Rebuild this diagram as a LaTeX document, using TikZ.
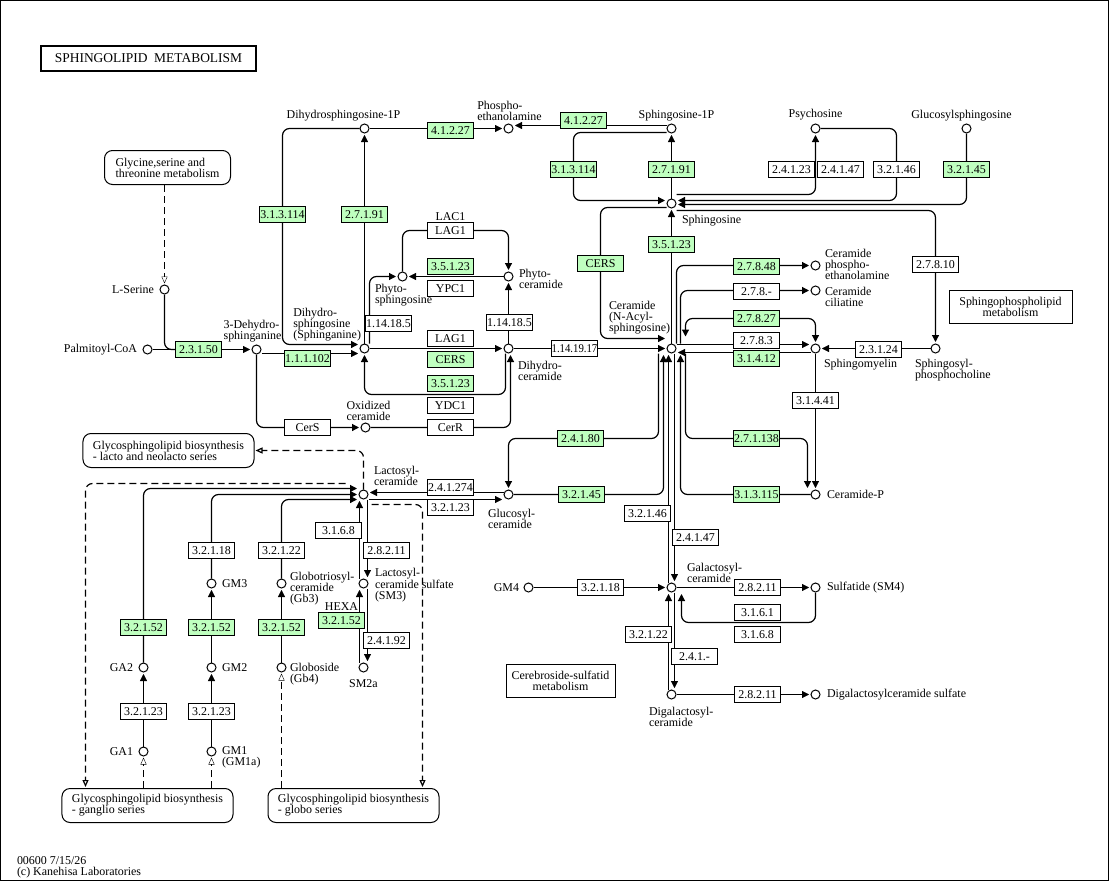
\documentclass[tikz,border=0pt]{standalone}
\usepackage{fontspec}
\setmainfont{Liberation Serif}
\usetikzlibrary{arrows.meta, positioning, calc}
\definecolor{kegggreen}{RGB}{191, 255, 191}
\pgfdeclarelayer{bg}
\pgfsetlayers{bg,main}

\begin{document}
\begin{tikzpicture}[x=1bp, y=-1bp, line width=1bp,
    cpd/.style={circle, draw, fill=white, inner sep=0pt, minimum size=9bp},
    lbl/.style={font=\fontsize{12}{11}\selectfont, inner sep=0pt, align=left},
    enz/.style={draw, fill=white, minimum width=46bp, minimum height=16bp, inner sep=0pt, font=\fontsize{12}{12}\selectfont},
    enzg/.style={enz, fill=kegggreen},
    mapbox/.style={draw, rounded corners=8bp, minimum width=171bp, minimum height=34bp, align=left, font=\fontsize{12}{11}\selectfont},
    mapsq/.style={draw, minimum height=33bp, align=center, font=\fontsize{12}{11}\selectfont},
    arr/.style={-{Triangle[length=7bp, width=7bp]}, shorten >=1.5bp},
    arrboth/.style={{Triangle[length=7bp, width=7bp]}-{Triangle[length=7bp, width=7bp]}, shorten >=1.5bp},
    maplink/.style={dash pattern=on 7bp off 4bp, -{Triangle[open, length=7bp, width=6bp]}, shorten >=1bp},
    elbow/.style={rounded corners=7bp, line width=1.2bp}]
    \useasboundingbox (-0.5,-0.5) rectangle (1108.5,880.5);
    \draw (0,0) rectangle (1108,880);
    \node[draw, line width=2bp, minimum width=214bp, minimum height=25bp, font=\fontsize{13.5}{13.5}\selectfont] (title) at (148,58) {SPHINGOLIPID\ \ METABOLISM};
    \node[lbl, anchor=west] (footer) at (16,867) {00600 7/15/26\\(c) Kanehisa Laboratories};

    % compounds
    \node[cpd] (pcoa) at (147,349) {};
    \node[cpd] (ser) at (164,289) {};
    \node[cpd] (dh3) at (256,349) {};
    \node[cpd] (sa) at (364,348) {};
    \node[cpd] (dh1p) at (364,128) {};
    \node[cpd] (pe) at (508,128) {};
    \node[cpd] (s1p) at (671,128) {};
    \node[cpd] (psy) at (815,128) {};
    \node[cpd] (glcsph) at (966,128) {};
    \node[cpd] (sph) at (671,203) {};
    \node[cpd] (phs) at (402,276) {};
    \node[cpd] (phc) at (508,276) {};
    \node[cpd] (dhc) at (508,348) {};
    \node[cpd] (oxc) at (365,427) {};
    \node[cpd] (cer) at (671,348) {};
    \node[cpd] (cpe) at (815,265) {};
    \node[cpd] (ccil) at (815,290) {};
    \node[cpd] (sm) at (815,348) {};
    \node[cpd] (spc) at (935,348) {};
    \node[cpd] (cerp) at (815,494) {};
    \node[cpd] (lac) at (363,494) {};
    \node[cpd] (glc) at (508,494) {};
    \node[cpd] (galc) at (671,587) {};
    \node[cpd] (gm4) at (528,587) {};
    \node[cpd] (sulf) at (815,587) {};
    \node[cpd] (dgc) at (671,694) {};
    \node[cpd] (dgcs) at (815,694) {};
    \node[cpd] (sm3) at (363,583) {};
    \node[cpd] (sm2a) at (363,667) {};
    \node[cpd] (gm3) at (211,583) {};
    \node[cpd] (gm2) at (211,667) {};
    \node[cpd] (gm1) at (211,751) {};
    \node[cpd] (ga2) at (143,667) {};
    \node[cpd] (ga1) at (143,751) {};
    \node[cpd] (gb3) at (281,583) {};
    \node[cpd] (gb4) at (281,667) {};

    % compound labels
    \node[lbl, left=5bp of pcoa] (lpcoa) {Palmitoyl-CoA};
    \node[lbl, left=5bp of ser] (lser) {L-Serine};
    \node[lbl, anchor=south] (ldh3) at (252,342) {3-Dehydro-\\sphinganine};
    \node[lbl, anchor=south east] (lsa) at (361,341) {Dihydro-\\sphingosine\\(Sphinganine)};
    \node[lbl, anchor=south] (ldh1p) at (343,121) {Dihydrosphingosine-1P};
    \node[lbl, anchor=south] (lpe) at (509,121) {Phospho-\\ethanolamine};
    \node[lbl, anchor=south] (ls1p) at (676,121) {Sphingosine-1P};
    \node[lbl, above=3bp of psy] (lpsy) {Psychosine};
    \node[lbl, anchor=south] (lglcsph) at (961,121) {Glucosylsphingosine};
    \node[lbl, anchor=west] (lsph) at (681,220) {Sphingosine};
    \node[lbl, anchor=north west] (lphs) at (374,283) {Phyto-\\sphingosine};
    \node[lbl, anchor=west] (lphc) at (518,278) {Phyto-\\ceramide};
    \node[lbl, anchor=west] (ldhc) at (517,370) {Dihydro-\\ceramide};
    \node[lbl, anchor=south, align=center] (loxc) at (368,421) {Oxidized\\ceramide};
    \node[lbl, anchor=west] (lcer) at (608,317) {Ceramide\\(N-Acyl-\\sphingosine)};
    \node[lbl, anchor=west] (lcpe) at (824,264) {Ceramide\\phospho-\\ethanolamine};
    \node[lbl, anchor=west] (lccil) at (824,296) {Ceramide\\ciliatine};
    \node[lbl, anchor=west] (lsm) at (823,364) {Sphingomyelin};
    \node[lbl, anchor=west] (lspc) at (914,370) {Sphingosyl-\\phosphocholine};
    \node[lbl, right=6bp of cerp] (lcerp) {Ceramide-P};
    \node[lbl, anchor=west] (llac) at (373,475) {Lactosyl-\\ceramide};
    \node[lbl, anchor=west] (lglc) at (487,518) {Glucosyl-\\ceramide};
    \node[lbl, anchor=west] (lgalc) at (686,572) {Galactosyl-\\ceramide};
    \node[lbl, left=4bp of gm4] (lgm4) {GM4};
    \node[lbl, right=6bp of sulf] (lsulf) {Sulfatide (SM4)};
    \node[lbl, anchor=west] (ldgc) at (648,716) {Digalactosyl-\\ceramide};
    \node[lbl, right=6bp of dgcs] (ldgcs) {Digalactosylceramide sulfate};
    \node[lbl, anchor=west] (lsm3) at (374,585) {Lactosyl-\\ceramide sulfate\\(SM3)};
    \node[lbl, below=7bp of sm2a] (lsm2a) {SM2a};
    \node[lbl, right=5bp of gm3] (lgm3) {GM3};
    \node[lbl, right=5bp of gm2] (lgm2) {GM2};
    \node[lbl, anchor=west] (lgm1) at (221,757) {GM1\\(GM1a)};
    \node[lbl, left=5bp of ga2] (lga2) {GA2};
    \node[lbl, left=5bp of ga1] (lga1) {GA1};
    \node[lbl, anchor=west] (lgb3) at (289,588) {Globotriosyl-\\ceramide\\(Gb3)};
    \node[lbl, anchor=west] (lgb4) at (289,674) {Globoside\\(Gb4)};

    % enzymes
    \node[enzg] (e23150) at (198,349) {2.3.1.50};
    \node[enzg] (e111102) at (307,358) {1.1.1.102};
    \node[enzg] (e313114a) at (282,214) {3.1.3.114};
    \node[enzg] (e27191a) at (364,214) {2.7.1.91};
    \node[enzg] (e41227a) at (450,130) {4.1.2.27};
    \node[enzg] (e41227b) at (583,120) {4.1.2.27};
    \node[enzg] (e313114b) at (573,169) {3.1.3.114};
    \node[enzg] (e27191b) at (671,169) {2.7.1.91};
    \node[enz] (e24123) at (791,169) {2.4.1.23};
    \node[enz] (e24147a) at (840,169) {2.4.1.47};
    \node[enz] (e32146a) at (896,169) {3.2.1.46};
    \node[enzg] (e32145a) at (966,169) {3.2.1.45};
    \node[enzg] (e35123a) at (671,244) {3.5.1.23};
    \node[enzg] (ecersa) at (600,263) {CERS};
    \node[enz] (elag1a) at (450,230) {LAG1};
    \node[enzg] (e35123b) at (450,266) {3.5.1.23};
    \node[enz] (eypc1) at (450,288) {YPC1};
    \node[enz] (e114185a) at (388,323) {1.14.18.5};
    \node[enz] (e114185b) at (509,322) {1.14.18.5};
    \node[enz] (elag1b) at (450,338) {LAG1};
    \node[enzg] (ecersb) at (450,359) {CERS};
    \node[enzg] (e35123c) at (450,383) {3.5.1.23};
    \node[enz] (eydc1) at (450,405) {YDC1};
    \node[enz] (ecers) at (307,427) {CerS};
    \node[enz] (ecerr) at (450,427) {CerR};
    \node[enz] (e1141917) at (574,348) {\scalebox{0.9}[1]{1.14.19.17}};
    \node[enzg] (e27848) at (756,266) {2.7.8.48};
    \node[enz] (e278x) at (756,291) {2.7.8.-};
    \node[enzg] (e27827) at (756,318) {2.7.8.27};
    \node[enz] (e2783) at (756,340) {2.7.8.3};
    \node[enzg] (e31412) at (756,358) {3.1.4.12};
    \node[enz] (e27810) at (935,264) {2.7.8.10};
    \node[enz] (e23124) at (878,349) {2.3.1.24};
    \node[enz] (e31441) at (815,400) {3.1.4.41};
    \node[enzg] (e24180) at (580,438) {2.4.1.80};
    \node[enzg] (e271138) at (756,438) {2.7.1.138};
    \node[enzg] (e32145b) at (581,494) {3.2.1.45};
    \node[enzg] (e313115) at (756,494) {3.1.3.115};
    \node[enz] (e241274) at (450,487) {2.4.1.274};
    \node[enz] (e32123a) at (450,507) {3.2.1.23};
    \node[enz] (e32146b) at (647,513) {3.2.1.46};
    \node[enz] (e24147b) at (695,537) {2.4.1.47};
    \node[enz] (e32118a) at (600,587) {3.2.1.18};
    \node[enz] (e28211a) at (757,587) {2.8.2.11};
    \node[enz] (e3161) at (757,612) {3.1.6.1};
    \node[enz] (e3168a) at (757,634) {3.1.6.8};
    \node[enz] (e32122a) at (648,634) {3.2.1.22};
    \node[enz] (e241x) at (694,656) {2.4.1.-};
    \node[enz] (e28211c) at (757,694) {2.8.2.11};
    \node[enz] (e3168b) at (338,530) {3.1.6.8};
    \node[enz] (e28211b) at (386,550) {2.8.2.11};
    \node[enzg] (ehexa) at (341,620) {3.2.1.52};
    \node[enz] (e24192) at (386,640) {2.4.1.92};
    \node[enz] (e32118b) at (211,550) {3.2.1.18};
    \node[enz] (e32122b) at (281,550) {3.2.1.22};
    \node[enzg] (e32152a) at (143,627) {3.2.1.52};
    \node[enzg] (e32152b) at (211,627) {3.2.1.52};
    \node[enzg] (e32152c) at (281,627) {3.2.1.52};
    \node[enz] (e32123b) at (143,711) {3.2.1.23};
    \node[enz] (e32123c) at (211,711) {3.2.1.23};
    \node[lbl, above=1bp of elag1a] (llac1) {LAC1};
    \node[lbl, above=1bp of ehexa] (lhexa) {HEXA};

    % pathway maps
    \node[mapbox, minimum width=126bp] (mgly) at (167,167) {Glycine,serine and\\threonine metabolism};
    \node[mapbox] (mlacto) at (168,450) {Glycosphingolipid biosynthesis\\- lacto and neolacto series};
    \node[mapbox] (mganglio) at (147,805) {Glycosphingolipid biosynthesis\\- ganglio series};
    \node[mapbox] (mglobo) at (353,805) {Glycosphingolipid biosynthesis\\- globo series};
    \node[mapsq, minimum width=123bp] (msphph) at (1010,306) {Sphingophospholipid\\metabolism};
    \node[mapsq, minimum width=109bp] (mcereb) at (560,680) {Cerebroside-sulfatid\\metabolism};

    \begin{pgfonlayer}{bg}
    % de novo part
    \draw[arr] (pcoa) -- (dh3);
    \draw[elbow] (ser) |- (e23150);
    \draw[maplink] (mgly.south -| ser) -- (ser);
    \draw[arr] (dh3.east |- 0,353) -- (sa.west |- 0,353);
    \draw[arr, elbow] (dh1p) -| (e313114a) |- (sa.west |- 0,344);
    \draw[arr] (sa) -- (dh1p);
    \draw[arr] (dh1p) -- (pe);
    \draw[arr] (s1p.west |- 0,125) -- (pe.east |- 0,125);
    \draw[arr] (sa) -- (dhc);
    \draw[arr, elbow] (sa.north -| 369,0) |- (phs);
    \draw[arr] (phc) -- (phs);
    \draw[arr, elbow] (phs) |- (elag1a) -| (phc);
    \draw[arr] (dhc) -- (phc);
    \draw[arr, elbow] (dhc.south -| 505,0) |- (sa |- 0,394) -- (sa);
    \draw[arr, elbow] (dh3) |- (ecers) -- (oxc);
    \draw[arr, elbow] (oxc) -- (ecerr) -| (dhc.south -| 510,0);
    % sphingosine
    \draw[arr, elbow] (s1p.west |- 0,132) -| (e313114b) |- (sph.west |- 0,200);
    \draw[arr] (sph) -- (s1p);
    \draw[arr, elbow] (sph.east |- 0,194) -| (psy);
    \draw[arr, elbow] (psy) -| (e32146a) |- (sph.east |- 0,200);
    \draw[arr, elbow] (glcsph) |- (sph.east |- 0,204);
    \draw[arr, elbow] (sph.east |- 0,210) -| (spc);
    \draw[arr, elbow] (sph.west |- 0,207) -| (ecersa) |- (cer.west |- 0,338);
    \draw[arr] (cer) -- (sph);
    \draw[arr] (dhc) -- (cer);
    % ceramide
    \draw[arr, elbow] (cer.north -| 676,0) |- (cpe);
    \draw[arr, elbow] (cer.north -| 680,0) |- (ccil);
    \draw[arrboth, elbow] ($(cer)+(14,-12)$) |- (e27827.center) -| (sm);
    \draw[arr] (cer.east |- 0,344) -- (sm.west |- 0,344);
    \draw[arr] (sm.west |- 0,352) -- (cer.east |- 0,352);
    \draw[arr] (spc) -- (sm);
    \draw[arr] (sm) -- (cerp);
    \draw[arr, elbow] (cer.south -| 685,0) |- (e271138) -| (cerp.north -| 807,0);
    \draw[arr, elbow] (cerp) -- (e313115) -| (cer.south -| 680,0);
    \draw[arr, elbow] (cer.south -| 658,0) |- (e24180) -| (glc);
    \draw[arr, elbow] (glc) -- (e32145b) -| (cer.south -| 663,0);
    \draw[arr] (galc.north -| 668,0) -- (cer.south -| 668,0);
    \draw[arr] (cer.south -| 674,0) -- (galc.north -| 674,0);
    % galactosylceramide
    \draw[arr] (gm4) -- (galc);
    \draw[arr] (galc) -- (sulf);
    \draw[arr, elbow] (sulf) |- (681,622) -- (galc.south -| 681,0);
    \draw[arr] (dgc.north -| 668,0) -- (galc.south -| 668,0);
    \draw[arr] (galc.south -| 674,0) -- (dgc.north -| 674,0);
    \draw[arr] (dgc) -- (dgcs);
    % lactosylceramide
    \draw[arr] (glc.west |- 0,492) -- (lac.east |- 0,492);
    \draw[arr] (lac.east |- 0,499) -- (glc.west |- 0,499);
    \draw[arr] (lac.south -| 367,0) -- (sm3.north -| 367,0);
    \draw[arr] (sm3.north -| 359,0) -- (lac.south -| 359,0);
    \draw[arr] (sm2a.north -| 359,0) -- (sm3.south -| 359,0);
    \draw[arr] (sm3.south -| 367,0) -- (sm2a.north -| 367,0);
    \draw[arr, elbow] (ga2) |- (lac.west |- 0,488);
    \draw[arr] (ga1) -- (ga2);
    \draw[arr] (gm1) -- (gm2);
    \draw[arr] (gm2) -- (gm3);
    \draw[arr, elbow] (gm3) |- (lac);
    \draw[arr] (gb4) -- (gb3);
    \draw[arr, elbow] (gb3) |- (lac.west |- 0,499);
    \draw[maplink] (mganglio.north -| ga1) -- (ga1);
    \draw[maplink] (mganglio.north -| gm1) -- (gm1);
    \draw[maplink] (mglobo.north -| gb4) -- (gb4);
    \draw[maplink, elbow] (lac) |- (mlacto);
    \draw[maplink, elbow] ($(lac)+(-18,-11)$) -| (mganglio.north -| 85,0);
    \draw[maplink, elbow] ($(lac)+(8,10)$) -| (mglobo.north -| 422,0);
    \end{pgfonlayer}
\end{tikzpicture}
\end{document}
